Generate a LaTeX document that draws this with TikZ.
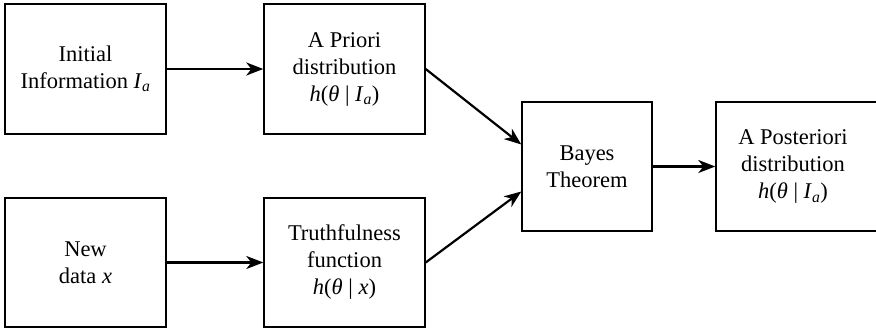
\documentclass[tikz,border=0pt]{standalone}
\usepackage{fontspec}
\setmainfont{Liberation Serif}
\usetikzlibrary{arrows.meta}
\newcommand\Ia{\textit{I}\textsubscript{\textit{a}}}
\newcommand\thet{\textit{θ}}
\begin{document}
\begin{tikzpicture}[x=1pt,y=1pt,
  box/.style={draw, line width=1.4pt, align=center, inner sep=0pt,
    font=\fontsize{22.5}{27}\selectfont},
  arr/.style={line width=2.2pt, -{Stealth[length=17pt,width=13pt,inset=5pt]}}]
\useasboundingbox (0,0) rectangle (876,329);
\node[box, minimum width=161, minimum height=130] (init) at (85.5,260) {Initial\\Information \Ia};
\node[box, minimum width=161, minimum height=130] (prior) at (344.5,260) {A Priori\\distribution\\\textit{h}(\thet\ |\ \Ia)};
\node[box, minimum width=161, minimum height=129] (new) at (85.5,66.5) {New\\data \textit{x}};
\node[box, minimum width=161, minimum height=129] (truth) at (344.5,66.5) {Truthfulness\\function\\\textit{h}(\thet\ |\ \textit{x})};
\node[box, minimum width=130, minimum height=129] (bayes) at (587,162.5) {Bayes\\Theorem};
\node[box, minimum width=170, minimum height=129] (post) at (801,162.5)
  {\begin{tabular}{@{}c@{}}A Posteriori\\distribution\\\textit{h}(\thet\ |\ \Ia)\end{tabular}\hspace*{16pt}};
\draw[arr] (init) -- (prior);
\draw[arr] (new) -- (truth);
\draw[arr] (prior.east) -- ([yshift=22pt]bayes.west);
\draw[arr] (truth.east) -- ([yshift=-25pt]bayes.west);
\draw[arr] (bayes) -- (post);
\end{tikzpicture}
\end{document}
